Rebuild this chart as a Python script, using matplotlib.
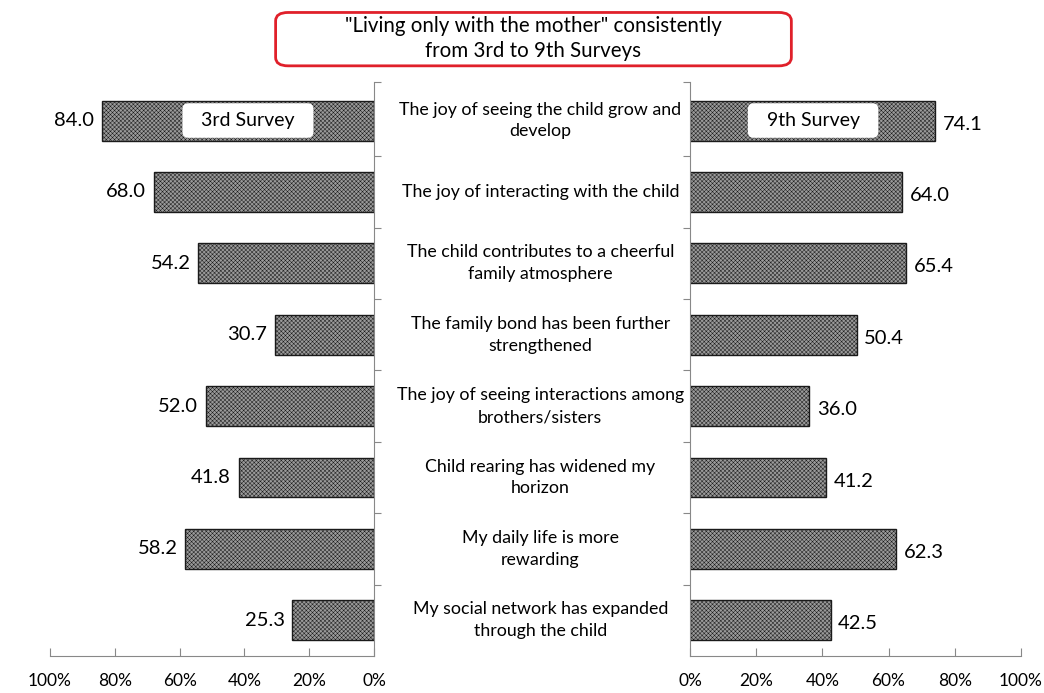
import matplotlib.pyplot as plt
from matplotlib.patches import FancyBboxPatch

plt.rcParams['font.family'] = ['Lato', 'DejaVu Sans']
plt.rcParams['hatch.color'] = '#6e6e6e'
plt.rcParams['hatch.linewidth'] = 0.35

categorias = [
    'The joy of seeing the child grow and\ndevelop',
    'The joy of interacting with the child',
    'The child contributes to a cheerful\nfamily atmosphere',
    'The family bond has been further\nstrengthened',
    'The joy of seeing interactions among\nbrothers/sisters',
    'Child rearing has widened my\nhorizon',
    'My daily life is more\nrewarding',
    'My social network has expanded\nthrough the child',
]
encuesta_3 = [84.0, 68.0, 54.2, 30.7, 52.0, 41.8, 58.2, 25.3]
encuesta_9 = [74.1, 64.0, 65.4, 50.4, 36.0, 41.2, 62.3, 42.5]
ticks_x = [0, 20, 40, 60, 80, 100]
titulo = '"Living only with the mother" consistently\nfrom 3rd to 9th Surveys'

fig = plt.figure(figsize=(10.44, 6.93), dpi=100)
ax_izq = fig.add_axes([0.0479, 0.0534, 0.3103, 0.8283])
ax_der = fig.add_axes([0.6609, 0.0534, 0.3170, 0.8283])

y = list(range(len(categorias)))
estilo_barra = dict(height=0.56, color='#9a9a9a', edgecolor='#1a1a1a',
                    linewidth=1.0, hatch='xxxxxxxx')

ax_izq.barh(y, encuesta_3, **estilo_barra)
ax_der.barh(y, encuesta_9, **estilo_barra)

for i, v in enumerate(encuesta_3):
    ax_izq.text(v + 2.3, i, f'{v:.1f}', ha='right', va='center', fontsize=14.5)
for i, v in enumerate(encuesta_9):
    ax_der.text(v + 2.3, i + 0.05, f'{v:.1f}', ha='left', va='center', fontsize=14.5)

for ax in (ax_izq, ax_der):
    ax.set_ylim(7.5, -0.54)
    ax.set_yticks([-0.54] + [i + 0.5 for i in range(7)])
    ax.set_yticklabels([])
    ax.set_xticks(ticks_x)
    ax.set_xticklabels([f'{t}%' for t in ticks_x], fontsize=12.5)
    ax.tick_params(axis='x', direction='in', length=6, color='#888888', pad=12)
    ax.tick_params(axis='y', direction='out', length=5, color='#888888')
    ax.spines['top'].set_visible(False)
    for s in ax.spines.values():
        s.set_color('#888888')

ax_izq.set_xlim(100, 0)
ax_izq.spines['left'].set_visible(False)
ax_izq.yaxis.tick_right()

ax_der.set_xlim(0, 100)
ax_der.spines['right'].set_visible(False)

caja = dict(boxstyle='round,pad=0.45,rounding_size=0.3', facecolor='white', edgecolor='none')
ax_izq.text(38.9, 0, '  3rd Survey  ', ha='center', va='center', fontsize=14, bbox=caja)
ax_der.text(37.2, 0, '  9th Survey  ', ha='center', va='center', fontsize=14, bbox=caja)

for i, c in enumerate(categorias):
    fig.text(0.5175, ax_izq.transData.transform((0, i))[1] / fig.bbox.height, c,
             ha='center', va='center', fontsize=12.8, linespacing=1.45)

marco = FancyBboxPatch((0.264, 0.905), 0.494, 0.077,
                       boxstyle='round,pad=0,rounding_size=0.012',
                       transform=fig.transFigure, facecolor='white',
                       edgecolor='#e0202a', linewidth=2.0)
fig.patches.append(marco)
fig.text(0.511, 0.944, titulo, ha='center', va='center', fontsize=14.8, linespacing=1.3)

fig.savefig('out.png', dpi=100)
